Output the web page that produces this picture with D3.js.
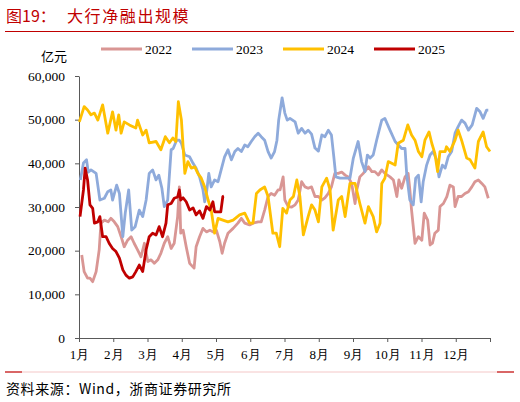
<!DOCTYPE html>
<html>
<head>
<meta charset="utf-8">
<script src="https://cdn.jsdelivr.net/npm/d3@7"></script>
<style>
  html, body { margin: 0; padding: 0; background: #fff; }
  svg { display: block; }
  .cjk { font-family: "Noto Sans CJK SC", sans-serif; }
  .num { font-family: "Liberation Serif", "Times New Roman", serif; }
  .axis path, .axis line { stroke: #595959; }
  .axis text { fill: #000; }
</style>
</head>
<body>
<svg id="chart" width="520" height="402"></svg>
<script>
// 月份刻度
const monthLabels = ['1月', '2月', '3月', '4月', '5月', '6月', '7月', '8月', '9月', '10月', '11月', '12月'];
const yTicks = [0, 10000, 20000, 30000, 40000, 50000, 60000];
const years = ['2022', '2023', '2024', '2025'];
const colors = ['#d99694', '#8eaadb', '#ffc000', '#c00000'];

// 大行净融出规模（亿元），[月份位置, 数值]
const s2022 = [
  [0.08, 19000], [0.15, 15200], [0.25, 13700], [0.32, 13700], [0.40, 12900], [0.50, 15200],
  [0.59, 20200], [0.64, 26300], [0.74, 27000], [0.85, 26600], [0.93, 27400], [1.03, 26600],
  [1.13, 25500], [1.23, 23200], [1.32, 20900], [1.42, 22400], [1.52, 23200], [1.61, 21700],
  [1.71, 20200], [1.81, 18600], [1.91, 21700], [2.01, 17500], [2.10, 17900], [2.20, 17100],
  [2.30, 17900], [2.39, 19400], [2.49, 21700], [2.59, 23200], [2.69, 20500], [2.78, 21700],
  [2.88, 27800], [2.93, 34600], [2.97, 24000], [3.04, 24700], [3.13, 20900], [3.23, 17100],
  [3.36, 16000], [3.42, 20900], [3.52, 23200], [3.62, 25100], [3.72, 24300], [3.82, 24700],
  [3.91, 24300], [4.01, 24700], [4.11, 22100], [4.18, 19400], [4.25, 21700], [4.35, 24000],
  [4.50, 25100], [4.64, 26300], [4.74, 27400], [4.84, 26300], [4.98, 25900], [5.08, 26300],
  [5.23, 26600], [5.32, 26600], [5.42, 29300], [5.52, 32400], [5.61, 33100], [5.71, 32700],
  [5.81, 33900], [5.87, 33900], [5.96, 36900], [6.01, 31600], [6.11, 30100], [6.21, 30000],
  [6.31, 30500], [6.40, 31600], [6.50, 35800], [6.60, 34600], [6.69, 34300], [6.79, 34600],
  [6.89, 32400], [6.99, 32400], [7.09, 31600], [7.18, 32100], [7.28, 33100], [7.37, 34600],
  [7.47, 37700], [7.57, 37700], [7.67, 38000], [7.77, 37300], [7.86, 36900], [7.96, 35400],
  [8.06, 30800], [8.11, 33900], [8.20, 36900], [8.30, 37700], [8.45, 39200], [8.55, 38100],
  [8.64, 38100], [8.74, 37300], [8.84, 38500], [8.93, 37700], [9.08, 36900], [9.18, 36200],
  [9.28, 32400], [9.34, 36200], [9.42, 34300], [9.52, 36900], [9.61, 37700], [9.66, 33900],
  [9.71, 29300], [9.81, 21700], [9.91, 23200], [10.01, 22400], [10.08, 28600], [10.18, 27000],
  [10.25, 21300], [10.32, 21700], [10.39, 24000], [10.49, 24700], [10.54, 30100], [10.64, 30800],
  [10.74, 32400], [10.83, 35000], [10.93, 34600], [10.98, 30100], [11.07, 32400], [11.17, 32400],
  [11.27, 33100], [11.37, 33500], [11.47, 34600], [11.56, 35800], [11.66, 36200], [11.76, 35400],
  [11.85, 34600], [11.95, 32000]
];

const s2023 = [
  [0.04, 36200], [0.13, 40100], [0.22, 40800], [0.27, 38000], [0.35, 38500], [0.50, 37700],
  [0.61, 31600], [0.74, 32000], [0.84, 33500], [0.93, 33900], [0.98, 31600], [1.10, 35000],
  [1.18, 33100], [1.28, 23200], [1.35, 28600], [1.45, 33900], [1.54, 24700], [1.64, 25500],
  [1.76, 29300], [1.86, 27800], [1.96, 31600], [2.05, 37700], [2.15, 38500], [2.25, 36200],
  [2.33, 37300], [2.42, 34300], [2.49, 30100], [2.59, 31600], [2.69, 43100], [2.75, 43400],
  [2.85, 45300], [2.93, 45300], [2.99, 44600], [3.09, 41900], [3.23, 41500], [3.33, 40000],
  [3.42, 38900], [3.52, 36900], [3.62, 33900], [3.67, 31200], [3.72, 33100], [3.79, 37700],
  [3.86, 34600], [3.96, 36200], [4.06, 35800], [4.15, 38500], [4.25, 41500], [4.35, 43100],
  [4.45, 40800], [4.55, 42700], [4.64, 43400], [4.74, 42700], [4.84, 44200], [4.93, 43800],
  [5.03, 45000], [5.13, 46100], [5.23, 46900], [5.32, 46100], [5.42, 45300], [5.52, 42700],
  [5.61, 41200], [5.71, 42700], [5.78, 45300], [5.83, 49900], [5.93, 55000], [6.01, 51500],
  [6.08, 49900], [6.16, 50300], [6.31, 49500], [6.40, 46900], [6.50, 48000], [6.60, 46900],
  [6.69, 47600], [6.79, 46700], [6.89, 43500], [6.99, 42800], [7.09, 46500], [7.18, 46100],
  [7.28, 47600], [7.37, 46500], [7.44, 41500], [7.50, 36900], [7.62, 36600], [7.77, 36600],
  [7.91, 36600], [8.01, 41200], [8.15, 45000], [8.25, 40400], [8.35, 38100], [8.42, 41900],
  [8.50, 41200], [8.59, 41900], [8.69, 45300], [8.79, 48400], [8.84, 49900], [8.93, 50300],
  [9.08, 47600], [9.23, 45000], [9.42, 43400], [9.52, 43400], [9.57, 37300], [9.66, 31600],
  [9.76, 30500], [9.83, 36600], [9.91, 37300], [9.99, 31200], [10.05, 35800], [10.15, 39600],
  [10.25, 41900], [10.34, 42700], [10.44, 40800], [10.51, 36900], [10.61, 39600], [10.69, 38900],
  [10.78, 41500], [10.88, 42700], [10.98, 46900], [11.07, 48400], [11.17, 49900], [11.27, 49200],
  [11.37, 47600], [11.48, 48800], [11.61, 52600], [11.71, 51800], [11.80, 50300], [11.90, 52200],
  [11.95, 52200]
];

const s2024 = [
  [0.01, 49500], [0.15, 53000], [0.25, 52200], [0.35, 51100], [0.45, 51500], [0.55, 49900],
  [0.69, 53400], [0.84, 46900], [0.98, 51800], [1.08, 47600], [1.16, 51100], [1.23, 46900],
  [1.32, 49500], [1.47, 48800], [1.66, 48100], [1.71, 49900], [1.86, 46500], [1.96, 47600],
  [2.05, 44700], [2.25, 45000], [2.39, 43100], [2.52, 46100], [2.64, 44700], [2.74, 45800],
  [2.83, 45000], [2.90, 54100], [2.99, 49900], [3.09, 37700], [3.18, 40400], [3.28, 38900],
  [3.38, 39200], [3.47, 37700], [3.57, 36600], [3.67, 34600], [3.77, 31600], [3.86, 29300],
  [3.96, 24000], [4.06, 27400], [4.20, 27000], [4.35, 26600], [4.50, 27000], [4.69, 28200],
  [4.84, 28600], [4.98, 26300], [5.08, 26300], [5.18, 33100], [5.28, 33900], [5.42, 34600],
  [5.52, 32400], [5.66, 24000], [5.76, 24000], [5.86, 20900], [5.95, 29700], [6.06, 28600],
  [6.16, 31600], [6.26, 32400], [6.36, 36200], [6.45, 32400], [6.55, 23600], [6.69, 27800],
  [6.79, 30500], [6.89, 29300], [6.99, 26600], [7.09, 34600], [7.23, 36600], [7.33, 33900],
  [7.42, 24700], [7.57, 31600], [7.67, 32400], [7.77, 27800], [7.91, 35400], [8.06, 35400],
  [8.20, 30800], [8.35, 26300], [8.45, 30100], [8.59, 27800], [8.69, 24300], [8.79, 26300],
  [8.84, 35400], [8.93, 36600], [9.03, 40400], [9.23, 39600], [9.32, 44600], [9.47, 45300],
  [9.60, 48800], [9.71, 46500], [9.81, 45300], [9.91, 42700], [10.01, 41500], [10.10, 45300],
  [10.22, 47200], [10.30, 44600], [10.39, 42300], [10.47, 38100], [10.54, 42700], [10.69, 42700],
  [10.73, 43800], [10.83, 42700], [10.98, 45300], [11.07, 47600], [11.17, 45300], [11.32, 41200],
  [11.42, 40800], [11.56, 38900], [11.66, 45000], [11.80, 47200], [11.90, 43800], [12.00, 42700]
];

const s2025 = [
  [0.03, 27800], [0.13, 33900], [0.18, 38900], [0.25, 36200], [0.32, 30500], [0.40, 29700],
  [0.45, 26300], [0.55, 26600], [0.61, 27800], [0.69, 23200], [0.79, 23200], [0.88, 21700],
  [0.98, 20500], [1.08, 19800], [1.18, 18300], [1.28, 15600], [1.37, 14400], [1.47, 13700],
  [1.57, 14000], [1.66, 15200], [1.76, 16700], [1.86, 15200], [1.96, 20200], [2.05, 23200],
  [2.15, 24000], [2.25, 23600], [2.34, 25500], [2.44, 23200], [2.54, 26300], [2.59, 30500],
  [2.69, 30800], [2.78, 32000], [2.88, 32300], [2.93, 33900], [2.97, 31600], [3.04, 32100],
  [3.13, 31200], [3.23, 29300], [3.33, 29800], [3.42, 28200], [3.52, 29100], [3.62, 27400],
  [3.72, 30100], [3.82, 29300], [3.91, 31200], [3.96, 28900], [4.06, 28900], [4.14, 28900],
  [4.20, 32400], [4.23, 32500]
];

const seriesList = [s2022, s2023, s2024, s2025];

const svg = d3.select('#chart');

// 标题
svg.append('text')
    .attr('class', 'cjk')
    .attr('x', 6)
    .attr('y', 22)
    .style('font-size', '16px')
    .style('fill', '#c00000')
    .text('图19：');

svg.append('text')
    .attr('class', 'cjk')
    .attr('x', 67)
    .attr('y', 22)
    .style('font-size', '16px')
    .style('letter-spacing', '1.6px')
    .style('fill', '#c00000')
    .text('大行净融出规模');

svg.append('line')
    .attr('x1', 5).attr('x2', 514)
    .attr('y1', 31.5).attr('y2', 31.5)
    .style('stroke', '#c00000')
    .style('stroke-width', 1);

// 比例尺
const x = d3.scaleLinear().domain([0, 12]).range([79, 490]);
const y = d3.scaleLinear().domain([0, 60000]).range([338, 76]);

// 坐标轴
const yAxis = d3.axisLeft(y)
    .tickValues(yTicks)
    .tickFormat(d3.format(','))
    .tickSize(4)
    .tickPadding(10)
    .tickSizeOuter(0);

svg.append('g')
    .attr('class', 'axis num')
    .attr('transform', 'translate(79,0)')
    .call(yAxis)
    .call(g => g.selectAll('text').style('font-size', '13.5px'));

const xAxis = d3.axisBottom(x)
    .tickValues(d3.range(0, 13))
    .tickFormat(d => monthLabels[d] || '')
    .tickSize(4)
    .tickPadding(8)
    .tickSizeOuter(0);

svg.append('g')
    .attr('class', 'axis num')
    .attr('transform', 'translate(0,338)')
    .call(xAxis)
    .call(g => g.selectAll('text').style('font-size', '13px'));

// 单位
svg.append('text')
    .attr('class', 'cjk')
    .attr('x', 41)
    .attr('y', 61)
    .style('font-size', '13px')
    .text('亿元');

// 折线
const line = d3.line()
    .x(d => x(d[0]))
    .y(d => y(d[1]));

seriesList.forEach((s, i) => {
    svg.append('path')
        .datum(s)
        .attr('d', line)
        .style('fill', 'none')
        .style('stroke', colors[i])
        .style('stroke-width', 2.8)
        .style('stroke-linejoin', 'round');
});

// 图例
const legendX = [101, 192, 283, 374];
years.forEach((yr, i) => {
    const lg = svg.append('g')
        .attr('transform', `translate(${legendX[i]},49)`);
    lg.append('line')
        .attr('x1', 0).attr('x2', 41)
        .attr('y1', 0).attr('y2', 0)
        .style('stroke', colors[i])
        .style('stroke-width', 3.2);
    lg.append('text')
        .attr('class', 'num')
        .attr('x', 44)
        .attr('y', 5)
        .style('font-size', '13.5px')
        .text(yr);
});

// 底部分隔线与来源
svg.append('line')
    .attr('x1', 22).attr('x2', 497)
    .attr('y1', 372).attr('y2', 372)
    .style('stroke', '#f4c7c7')
    .style('stroke-width', 1);
[[5, 22], [497, 514]].forEach(seg => {
    svg.append('line')
        .attr('x1', seg[0]).attr('x2', seg[1])
        .attr('y1', 372).attr('y2', 372)
        .style('stroke', '#c00000')
        .style('stroke-width', 1.2);
});

svg.append('text')
    .attr('class', 'cjk')
    .attr('x', 6)
    .attr('y', 394)
    .style('font-size', '14px')
    .style('letter-spacing', '0.6px')
    .text('资料来源：Wind，浙商证券研究所');
</script>
</body>
</html>
